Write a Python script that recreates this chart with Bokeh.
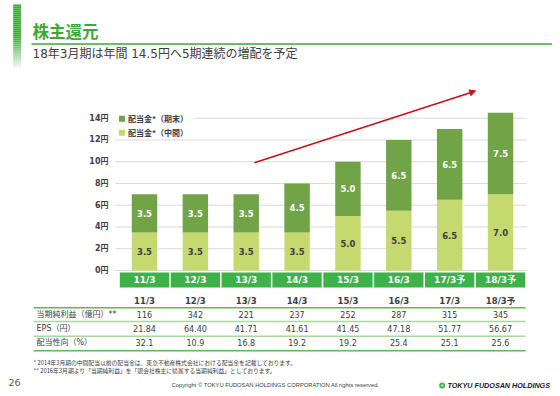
from bokeh.plotting import figure
from bokeh.models import Range1d, Arrow, NormalHead
from bokeh.core.properties import value
from bokeh.embed import file_html
from bokeh.resources import INLINE

# ---------------- data ----------------
categories = ["11/3", "12/3", "13/3", "14/3", "15/3", "16/3", "17/3予", "18/3予"]
table_headers = ["11/3", "12/3", "13/3", "14/3", "15/3", "16/3", "17/3", "18/3予"]
interim_dividend = [3.5, 3.5, 3.5, 3.5, 5.0, 5.5, 6.5, 7.0]
yearend_dividend = [3.5, 3.5, 3.5, 4.5, 5.0, 6.5, 6.5, 7.5]
net_income = [116, 342, 221, 237, 252, 287, 315, 345]
eps = [21.84, 64.40, 41.71, 41.61, 41.45, 47.18, 51.77, 56.67]
payout_ratio = [32.1, 10.9, 16.8, 19.2, 19.2, 25.4, 25.1, 25.6]
y_ticks = [0, 2, 4, 6, 8, 10, 12, 14]
y_tick_labels = [f"{t}円" for t in y_ticks]
row_labels = ["当期純利益（億円）**", "EPS（円）", "配当性向（%）"]
legend_labels = ["配当金*（期末）", "配当金*（中間）"]
title_text = "株主還元"
subtitle_text = "18年3月期は年間 14.5円へ5期連続の増配を予定"
footnotes = [
    "* 2014年3月期の中間配当以前の配当金は、東急不動産株式会社における配当金を記載しております。",
    "** 2016年3月期より「当期純利益」を「親会社株主に帰属する当期純利益」としております。",
]
page_number = "26"
copyright_text = "Copyright © TOKYU FUDOSAN HOLDINGS CORPORATION All rights reserved."
logo_text = "TOKYU FUDOSAN HOLDINGS"
trend_start = (2.16, 9.9)   # (category index, yen)
trend_end = (6.51, 16.5)

# ---------------- styles / layout ----------------
W, H = 552, 390
X_FIRST, X_STEP = 144.0, 50.86     # pixel centre of first category, spacing
Y_ZERO, Y_PER_UNIT = 270.0, 10.88  # pixel of 0 yen, pixels per yen
DARK = "#71a347"
LIGHT = "#c6d96f"
BOX = "#3db249"
TITLE_GREEN = "#3aa935"
LINE_GREEN = "#5fb85a"
LINE_LIGHT = "#a9d6a1"
GRID = "#d9d9d9"
TEXT = "#404040"
RED = "#c8101e"
LATIN = value("DejaVu Sans, Noto Sans CJK JP")
CJK = value("Noto Sans CJK JP")

idx = list(range(len(categories)))
totals = [a + b for a, b in zip(interim_dividend, yearend_dividend)]

p = figure(width=W, height=H, output_backend="svg", toolbar_location=None,
           x_axis_type=None, y_axis_type=None, min_border=0,
           x_range=Range1d(0, W), y_range=Range1d(H, 0))
p.outline_line_color = None
p.background_fill_color = "white"
p.border_fill_color = "white"
p.extra_x_ranges = {"cat": Range1d((0 - X_FIRST) / X_STEP, (W - X_FIRST) / X_STEP)}
p.extra_y_ranges = {"val": Range1d((Y_ZERO - H) / Y_PER_UNIT, (Y_ZERO - 0) / Y_PER_UNIT)}

# ---------------- header ----------------
n = 32
tops = [4 + k * 2 for k in range(n)]
alphas = [1.0 if t < 34 else max(0.0, 1.0 - (t - 34) / 34.0) for t in tops]
p.quad(left=12.7, right=20.7, top=tops, bottom=[t + 2 for t in tops],
       fill_color=TITLE_GREEN, fill_alpha=alphas, line_color=None)
p.text(x=[32], y=[30], text=[title_text], text_font=CJK, text_font_style="bold",
       text_font_size="16.5px", text_color=TITLE_GREEN, text_baseline="middle")
p.segment(x0=[31], x1=[W], y0=[43.5], y1=[43.5], line_color=TITLE_GREEN, line_width=1.5)
p.text(x=[32], y=[53], text=[subtitle_text], text_font=LATIN,
       text_font_size="12px", text_color=TEXT, text_baseline="middle")

# ---------------- chart ----------------
p.segment(x0=115, x1=526, y0=y_ticks, y1=y_ticks, line_color=GRID, line_width=1,
          y_range_name="val")
p.text(x=108, y=y_ticks, text=y_tick_labels, text_font=LATIN, text_font_style="bold",
       text_font_size="8px", text_color=TEXT, text_align="right", text_baseline="middle",
       y_range_name="val")

p.vbar(x=idx, width=0.5, bottom=0, top=interim_dividend, fill_color=LIGHT, line_color=None,
       x_range_name="cat", y_range_name="val")
p.vbar(x=idx, width=0.5, bottom=interim_dividend, top=totals, fill_color=DARK, line_color=None,
       x_range_name="cat", y_range_name="val")

p.text(x=idx, y=[v / 2 for v in interim_dividend], text=[f"{v:.1f}" for v in interim_dividend],
       text_font=LATIN, text_font_style="bold", text_font_size="8.5px", text_color=TEXT,
       text_align="center", text_baseline="middle", x_range_name="cat", y_range_name="val")
p.text(x=idx, y=[a + b / 2 for a, b in zip(interim_dividend, yearend_dividend)],
       text=[f"{v:.1f}" for v in yearend_dividend],
       text_font=LATIN, text_font_style="bold", text_font_size="8.5px", text_color="white",
       text_align="center", text_baseline="middle", x_range_name="cat", y_range_name="val")

# legend
p.quad(left=109, right=193, top=112, bottom=124.5, fill_color="white", line_color=None)
p.rect(x=121.5, y=[118.3, 132.3], width=6, height=6, fill_color=[DARK, LIGHT], line_color=None)
p.text(x=127.5, y=[118.3, 132.3], text=legend_labels, text_font=CJK, text_font_style="bold",
       text_font_size="8px", text_color=TEXT, text_baseline="middle")

# trend arrow
p.add_layout(Arrow(end=NormalHead(size=6, fill_color=RED, line_color=RED),
                   x_start=trend_start[0], y_start=trend_start[1],
                   x_end=trend_end[0], y_end=trend_end[1],
                   line_color=RED, line_width=1.5,
                   x_range_name="cat", y_range_name="val"))

# category boxes
p.rect(x=idx, y=279.5, width=0.97, height=15, fill_color=BOX, line_color=None,
       x_range_name="cat")
p.text(x=idx, y=279.8, text=categories, text_font=LATIN, text_font_style="bold",
       text_font_size="9px", text_color="white", text_align="center", text_baseline="middle",
       x_range_name="cat")

# ---------------- table ----------------
p.text(x=idx, y=300, text=table_headers, text_font=LATIN, text_font_style="bold",
       text_font_size="8.5px", text_color=TEXT, text_align="center", text_baseline="middle",
       x_range_name="cat")
row_y = [314, 328.3, 342.3]
rows = [[str(v) for v in net_income], [f"{v:.2f}" for v in eps], [f"{v:.1f}" for v in payout_ratio]]
for ry, vals in zip(row_y, rows):
    p.text(x=idx, y=ry, text=vals, text_font=LATIN, text_font_size="8px", text_color=TEXT,
           text_align="center", text_baseline="middle", x_range_name="cat")
p.text(x=36, y=row_y, text=row_labels, text_font=LATIN, text_font_size="8px",
       text_color=TEXT, text_baseline="middle")
p.segment(x0=33, x1=525, y0=[307.3, 350.3], y1=[307.3, 350.3], line_color=LINE_GREEN, line_width=1.5)
p.segment(x0=33, x1=525, y0=[321, 335.7], y1=[321, 335.7], line_color=LINE_LIGHT, line_width=1.5)

# ---------------- footer ----------------
p.text(x=33, y=[362.3, 370], text=footnotes, text_font=CJK, text_font_size="5.8px",
       text_color=TEXT, text_baseline="middle")
p.text(x=[8], y=[382], text=[page_number], text_font=value("DejaVu Sans"), text_font_size="9.5px",
       text_color="#595959", text_baseline="middle")
p.text(x=[275], y=[384], text=[copyright_text], text_font=value("Liberation Sans"),
       text_font_size="5.8px", text_color=TEXT, text_align="center", text_baseline="middle")
p.scatter(x=[441.7], y=[385], marker="circle", size=6, fill_color="#4cb048", line_color=None)
p.scatter(x=[441.7], y=[385], marker="circle", size=2.2, fill_color="#d8eccf", line_color=None)
p.text(x=[447], y=[385], text=[logo_text], text_font=value("Liberation Sans"),
       text_font_style="bold italic", text_font_size="7.2px", text_color="#1a1a1a",
       text_baseline="middle")

open("out.html", "w").write(file_html(p, INLINE))
